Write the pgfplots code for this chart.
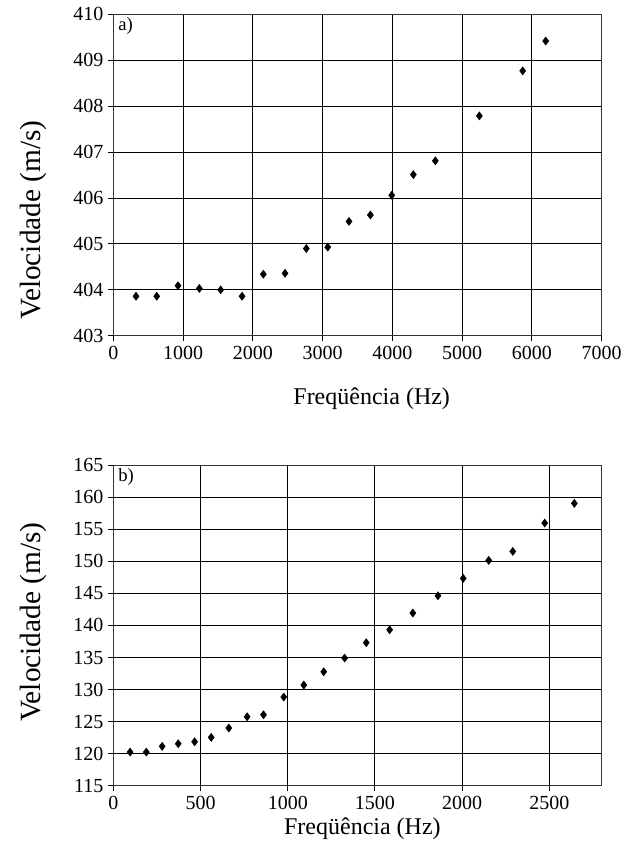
\documentclass[border=0pt]{standalone}
\usepackage{fontspec}
\setmainfont{Liberation Serif}
\usepackage{pgfplots}
\pgfplotsset{compat=1.18}

% 1 px of the reference = 0.75pt
\pgfplotsset{vel/.style={
    scale only axis,
    width=366.3pt,
    axis line style={black!80, line width=0.75pt},
    grid=major,
    grid style={black, line width=0.75pt},
    tick align=outside,
    tick pos=left,
    major tick length=4pt,
    tick style={black, line width=0.75pt},
    ticklabel style={font=\fontsize{15}{18}\selectfont},
    /pgf/number format/assume math mode=true,
    /pgf/number format/set thousands separator={},
    xlabel style={font=\fontsize{18}{21}\selectfont, anchor=base},
    ylabel style={font=\fontsize{22}{26}\selectfont, anchor=center},
}}

\begin{document}
\begin{tikzpicture}
\path[use as bounding box] (0,0) rectangle (474.75pt,-642pt);

% a)
\begin{axis}[vel,
    at={(85pt,-251.8pt)}, anchor=south west,
    height=241pt,
    xmin=0, xmax=7000, ymin=403, ymax=410,
    xtick={0,1000,...,7000}, ytick={403,404,...,410},
    xlabel={Freqüência (Hz)},
    ylabel={Velocidade (m/s)},
    xlabel style={at={(axis description cs:0.529,-0.215)}},
    ylabel style={at={(axis description cs:-0.164,0.36)}},
]
\addplot[only marks, mark=diamond*, mark size=3pt, black] coordinates {
    (325,403.86) (622,403.86) (927,404.09) (1233,404.03) (1539,404.00)
    (1845,403.86) (2150,404.34) (2461,404.36) (2766,404.90) (3073,404.93)
    (3378,405.49) (3684,405.63) (3990,406.06) (4300,406.51) (4615,406.81)
    (5246,407.79) (5867,408.77) (6197,409.42)
};
\node[anchor=north west, inner sep=0pt, font=\fontsize{14}{16}\selectfont]
    at (rel axis cs:0,1) [xshift=3.5pt, yshift=-2.5pt] {a)};
\end{axis}

% b)
\begin{axis}[vel,
    at={(85pt,-589.3pt)}, anchor=south west,
    height=240.5pt,
    xmin=0, xmax=2800, ymin=115, ymax=165,
    xtick={0,500,...,2500}, ytick={115,120,...,165},
    xlabel={Freqüência (Hz)},
    ylabel={Velocidade (m/s)},
    xlabel style={at={(axis description cs:0.51,-0.153)}},
    ylabel style={at={(axis description cs:-0.164,0.51)}},
]
\addplot[only marks, mark=diamond*, mark size=3pt, black] coordinates {
    (96,120.25) (189,120.25) (280,121.14) (372,121.55) (466,121.86)
    (561,122.54) (662,124.00) (767,125.76) (861,126.07) (977,128.83)
    (1092,130.70) (1206,132.77) (1326,134.91) (1450,137.30) (1584,139.32)
    (1717,141.93) (1861,144.62) (2006,147.33) (2152,150.14) (2290,151.54)
    (2473,155.96) (2643,159.03)
};
\node[anchor=north west, inner sep=0pt, font=\fontsize{14}{16}\selectfont]
    at (rel axis cs:0,1) [xshift=3.5pt, yshift=-2.5pt] {b)};
\end{axis}
\end{tikzpicture}
\end{document}
